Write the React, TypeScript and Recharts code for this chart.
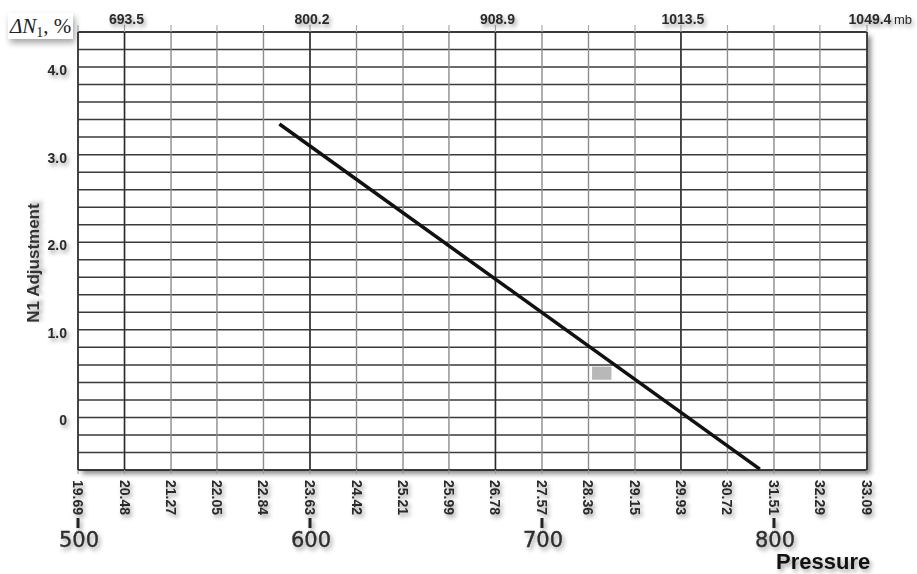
import React from 'react';
import {
  ComposedChart,
  Line,
  XAxis,
  YAxis,
  CartesianGrid,
  ReferenceLine,
  ReferenceArea,
} from 'recharts';

// Pressure, inHg (bottom axis ticks)
const inHgTicks = [
  19.69, 20.48, 21.27, 22.05, 22.84, 23.63, 24.42, 25.21, 25.99, 26.78,
  27.57, 28.36, 29.15, 29.93, 30.72, 31.51, 32.29, 33.09,
];
// Pressure, mmHg labels placed under the inHg ticks
const mmTickValues = [19.69, 23.63, 27.57, 31.51];
const mmTickLabels = ['500', '600', '700', '800'];
// Pressure, mb labels along the top
const mbTickValues = [20.48, 23.63, 26.78, 29.93, 33.09];
const mbTickLabels = ['693.5', '800.2', '908.9', '1013.5', '1049.4'];
// N1 adjustment axis
const yTicks = [
  -0.6, -0.4, -0.2, 0, 0.2, 0.4, 0.6, 0.8, 1, 1.2, 1.4, 1.6, 1.8, 2, 2.2,
  2.4, 2.6, 2.8, 3, 3.2, 3.4, 3.6, 3.8, 4, 4.2, 4.4,
];
const yLabelValues = [0, 1, 2, 3, 4];
const yLabels = ['0', '1.0', '2.0', '3.0', '4.0'];
// Adjustment line
const linePressure = [23.11, 31.27];
const lineAdjustment = [3.35, -0.59];

const data = linePressure.map((p, i) => ({ p, adj: lineAdjustment[i] }));

const SHADOW = 'drop-shadow(2px 3px 2px rgba(0,0,0,0.38))';
const LABEL_FONT = '"Liberation Sans", Arial, sans-serif';

const BottomTick = (props: any) => {
  const { x, y, payload } = props;
  const v = payload.value as number;
  const idx = mmTickValues.indexOf(v);
  return (
    <g style={{ filter: SHADOW }}>
      <text
        x={0}
        y={0}
        transform={`translate(${x},${y + 4}) rotate(90)`}
        textAnchor="start"
        dominantBaseline="central"
        fontFamily={LABEL_FONT}
        fontWeight="bold"
        fontSize={14}
        fill="#2a2a2a"
      >
        {v.toFixed(2)}
      </text>
      {idx >= 0 && (
        <>
          <line x1={x} x2={x} y1={y + 42} y2={y + 52} stroke="#222" strokeWidth={3} />
          <text
            x={x + 1}
            y={y + 71}
            textAnchor="middle"
            fontFamily='"DejaVu Sans", Verdana, sans-serif'
            fontSize={21}
            fill="#2e2e2e"
            stroke="#2e2e2e"
            strokeWidth={0.4}
          >
            {mmTickLabels[idx]}
          </text>
        </>
      )}
    </g>
  );
};

const TopTick = (props: any) => {
  const { x, y, payload } = props;
  const v = payload.value as number;
  const idx = mbTickValues.indexOf(v);
  if (idx < 0) return <g />;
  const isLast = idx === mbTickValues.length - 1;
  return (
    <g style={{ filter: SHADOW }}>
      <text
        x={x + (isLast ? 3 : 2)}
        y={y + 0.5}
        textAnchor="middle"
        fontFamily={LABEL_FONT}
        fontWeight="bold"
        fontSize={14}
        fill="#2a2a2a"
      >
        {mbTickLabels[idx]}
      </text>
    </g>
  );
};

const LeftTick = (props: any) => {
  const { x, y, payload } = props;
  const v = payload.value as number;
  const idx = yLabelValues.findIndex((t) => Math.abs(t - v) < 1e-6);
  if (idx < 0) return <g />;
  return (
    <text
      x={x - 11}
      y={y + 3}
      textAnchor="end"
      dominantBaseline="central"
      fontFamily={LABEL_FONT}
      fontWeight="bold"
      fontSize={14}
      fill="#2a2a2a"
      style={{ filter: SHADOW }}
    >
      {yLabels[idx]}
    </text>
  );
};

export default function App() {
  const W = 917;
  const H = 574;
  return (
    <div
      style={{
        position: 'relative',
        width: W,
        height: H,
        background: '#fff',
        overflow: 'hidden',
      }}
    >
      <style>{`html,body{margin:0;padding:0;background:#fff;}`}</style>
      <div
        style={{
          position: 'absolute',
          left: 78,
          top: 32,
          width: 789,
          height: 438,
          background: '#fff',
          boxShadow: '4px 4px 5px rgba(0,0,0,0.45)',
        }}
      />
      <div style={{ position: 'absolute', left: 0, top: 0 }}>
        <ComposedChart
          width={W}
          height={H}
          data={data}
          margin={{ top: 0, right: 50, bottom: 0, left: 0 }}
        >
          <CartesianGrid
            horizontal={true}
            vertical={false}
            stroke="#3a3a3a"
            strokeWidth={1.5}
          />
          <CartesianGrid
            horizontal={false}
            vertical={true}
            stroke="#8c8c8c"
            strokeWidth={1.4}
          />
          <XAxis
            dataKey="p"
            type="number"
            domain={[19.69, 33.09]}
            allowDataOverflow
            ticks={inHgTicks}
            interval={0}
            height={104}
            axisLine={false}
            tickLine={{ stroke: '#999', strokeWidth: 1.2 }}
            tickSize={4}
            tickMargin={2}
            tick={<BottomTick />}
          />
          <XAxis
            xAxisId="top"
            dataKey="p"
            orientation="top"
            type="number"
            domain={[19.69, 33.09]}
            allowDataOverflow
            ticks={inHgTicks}
            interval={0}
            height={32}
            axisLine={false}
            tickLine={{ stroke: '#aaa', strokeWidth: 1.2 }}
            tickSize={7}
            tickMargin={2}
            tick={<TopTick />}
          />
          <YAxis
            type="number"
            domain={[-0.6, 4.4]}
            allowDataOverflow
            ticks={yTicks}
            interval={0}
            width={78}
            axisLine={false}
            tickLine={false}
            tickSize={0}
            tickMargin={0}
            tick={<LeftTick />}
          />
          {mbTickValues.slice(0, 4).map((v) => (
            <ReferenceLine key={v} x={v} stroke="#2a2a2a" strokeWidth={1.5} />
          ))}
          <ReferenceLine x={19.69} stroke="#2a2a2a" strokeWidth={1.6} />
          <ReferenceLine x={33.09} stroke="#2a2a2a" strokeWidth={1.6} />
          <ReferenceLine y={-0.6} stroke="#2a2a2a" strokeWidth={1.6} />
          <ReferenceLine y={4.4} stroke="#2a2a2a" strokeWidth={1.6} />
          <ReferenceArea
            x1={28.42}
            x2={28.75}
            y1={0.43}
            y2={0.58}
            fill="#b8b8b8"
            fillOpacity={1}
            stroke="none"
          />
          <Line
            dataKey="adj"
            type="linear"
            stroke="#111"
            strokeWidth={3.5}
            dot={false}
            activeDot={false}
            isAnimationActive={false}
          />
        </ComposedChart>
      </div>
      <svg
        width={W}
        height={H}
        style={{ position: 'absolute', left: 0, top: 0, pointerEvents: 'none' }}
      >
        <rect
          x={8}
          y={13}
          width={65}
          height={26}
          fill="#fff"
          style={{ filter: 'drop-shadow(2px 4px 3px rgba(0,0,0,0.35))' }}
        />
        <text
          x={10}
          y={33}
          fontFamily='"Liberation Serif", "DejaVu Serif", serif'
          fontSize={21}
          fill="#222"
        >
          <tspan fontStyle="italic">ΔN</tspan>
          <tspan fontSize={14} dy={4}>1</tspan>
          <tspan dy={-4}>, %</tspan>
        </text>
        <text
          x={894}
          y={23.5}
          fontFamily={LABEL_FONT}
          fontSize={13}
          fill="#2a2a2a"
          style={{ filter: SHADOW }}
        >
          mb
        </text>
        <text
          x={0}
          y={0}
          transform="translate(39,263) rotate(-90)"
          textAnchor="middle"
          fontFamily={LABEL_FONT}
          fontWeight="bold"
          fontSize={17}
          fill="#333"
          style={{ filter: SHADOW }}
        >
          N1 Adjustment
        </text>
        <text
          x={776}
          y={569}
          fontFamily={LABEL_FONT}
          fontWeight="bold"
          fontSize={22}
          fill="#111"
          style={{ filter: SHADOW }}
        >
          Pressure
        </text>
      </svg>
    </div>
  );
}
